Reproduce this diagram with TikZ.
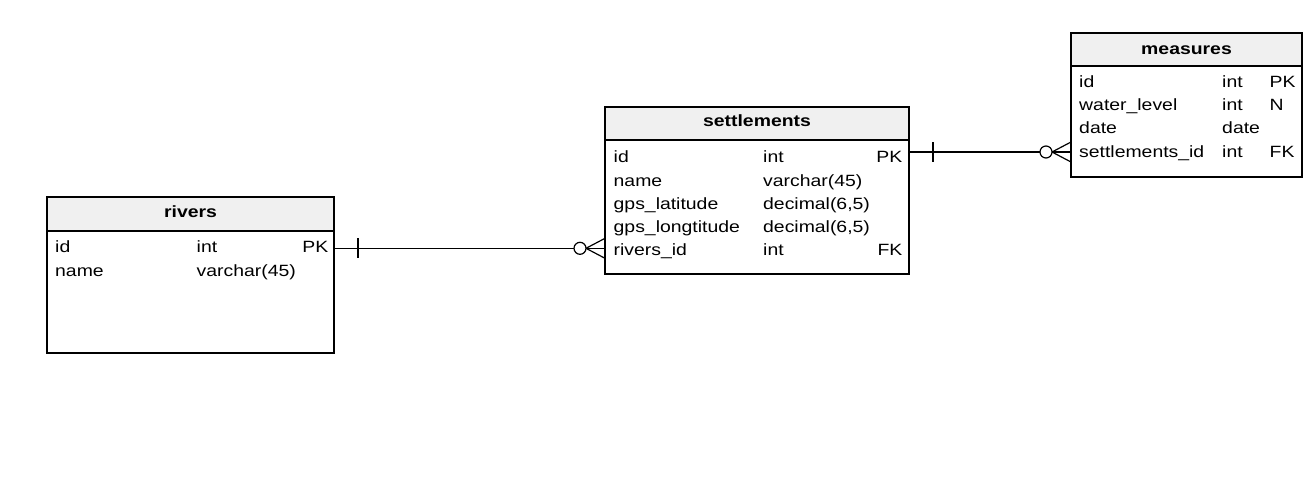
\documentclass[tikz,border=0pt]{standalone}
\usepackage{fontspec}
\setmainfont{Liberation Sans}[FakeStretch=1.19]
\usetikzlibrary{positioning}
\definecolor{headgray}{HTML}{F0F0F0}
\tikzset{
tablebox/.style={draw, line width=1.2pt, anchor=north west, inner sep=0pt, outer sep=0pt},
headbox/.style={tablebox, fill=headgray},
headtext/.style={anchor=base, inner sep=0pt, font=\fontsize{16.3pt}{19pt}\selectfont\bfseries},
field/.style={anchor=base west, inner sep=0pt, font=\fontsize{16.3pt}{19pt}\selectfont},
keyright/.style={field, anchor=base east},
link/.style={line width=1.2pt}
}
\newcommand{\oneToMany}[2]{%
  \draw[link] (#1) -- (#2);
  \draw[link] ([xshift=24pt]#1) ++(0,-10) -- ++(0,20);
  \draw[link, fill=white] ([xshift=-25pt]#2) circle (6pt);
  \draw[link] ([xshift=-19pt]#2) -- ++(19,-10) ([xshift=-19pt]#2) -- ++(19,10);
}

\begin{document}
\begin{tikzpicture}[x=1pt, y=-1pt]
\useasboundingbox (0,0) rectangle (1316,482);

% rivers
\node[tablebox, minimum width=287pt, minimum height=156pt] (rivers) at (47,197) {};
\node[headbox, minimum width=287pt, minimum height=34pt] (rivers-head) at (47,197) {};
\node[headtext] (rivers-title) at (190.5,217.3) {rivers};
\foreach \n/\t/\k [count=\i from 0] in {id/int/PK, name/varchar(45)/}{
  \node[field] (rivers-n\i) at (55,252.7+23.8*\i) {\n};
  \node[field] (rivers-t\i) at (196.5,252.7+23.8*\i) {\t};
  \node[keyright] (rivers-k\i) at (328.5,252.7+23.8*\i) {\k};
}

% settlements
\node[tablebox, minimum width=304pt, minimum height=167pt] (settlements) at (605,107) {};
\node[headbox, minimum width=304pt, minimum height=33pt] (settlements-head) at (605,107) {};
\node[headtext] (settlements-title) at (757,126.7) {settlements};
\foreach \n/\t/\k [count=\i from 0] in {id/int/PK, name/varchar(45)/,
    gps\_latitude/{decimal(6,5)}/, gps\_longtitude/{decimal(6,5)}/, rivers\_id/int/FK}{
  \node[field] (settlements-n\i) at (613.5,162.7+23.3*\i) {\n};
  \node[field] (settlements-t\i) at (763,162.7+23.3*\i) {\t};
  \node[keyright] (settlements-k\i) at (902.5,162.7+23.3*\i) {\k};
}

% measures
\node[tablebox, minimum width=231pt, minimum height=144pt] (measures) at (1071,33) {};
\node[headbox, minimum width=231pt, minimum height=33pt] (measures-head) at (1071,33) {};
\node[headtext] (measures-title) at (1186.5,54) {measures};
\foreach \n/\t/\k [count=\i from 0] in {id/int/PK, water\_level/int/N,
    date/date/, settlements\_id/int/FK}{
  \node[field] (measures-n\i) at (1079,87.3+23.3*\i) {\n};
  \node[field] (measures-t\i) at (1222,87.3+23.3*\i) {\t};
  \node[field] (measures-k\i) at (1269.5,87.3+23.3*\i) {\k};
}

% relations
\coordinate (rs) at (0,248.3);
\coordinate (sm) at (0,152);
\coordinate (rivers-pk) at (rivers.east |- rs);
\coordinate (settlements-fk) at (settlements.west |- rs);
\coordinate (settlements-pk) at (settlements.east |- sm);
\coordinate (measures-fk) at (measures.west |- sm);
\oneToMany{rivers-pk}{settlements-fk}
\oneToMany{settlements-pk}{measures-fk}
\end{tikzpicture}
\end{document}
